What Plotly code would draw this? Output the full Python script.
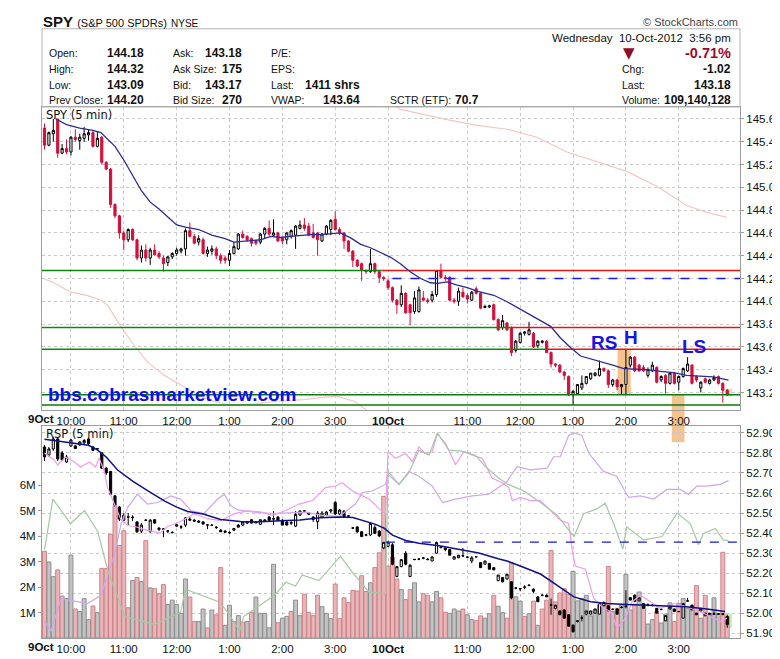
import plotly.graph_objects as go

# ---------------- data (5-min bars, 9-Oct = 0..77, 10-Oct = 78..155) ----------------
bars = list(range(156))

spy_open = [
    145.52, 145.37, 145.47, 145.60, 145.30, 145.34, 145.31, 145.44, 145.41, 145.43,
    145.46, 145.48, 145.36, 145.44, 145.22, 145.16, 144.85, 144.75, 144.60, 144.54,
    144.63, 144.54, 144.38, 144.45, 144.38, 144.45, 144.42, 144.38, 144.34, 144.39,
    144.42, 144.44, 144.46, 144.62, 144.57, 144.52, 144.54, 144.42, 144.44, 144.46,
    144.40, 144.38, 144.36, 144.42, 144.46, 144.59, 144.57, 144.55, 144.53, 144.52,
    144.59, 144.64, 144.58, 144.60, 144.56, 144.54, 144.57, 144.58, 144.64, 144.67,
    144.66, 144.60, 144.60, 144.53, 144.59, 144.63, 144.72, 144.63, 144.60, 144.53,
    144.44, 144.36, 144.33, 144.27, 144.26, 144.33, 144.26, 144.21,
    144.18, 144.12, 144.01, 143.97, 144.07, 143.97, 143.91, 143.91, 144.03, 144.01,
    144.01, 144.06, 144.27, 144.21, 144.21, 144.01, 144.00, 144.08, 144.05, 144.01,
    144.11, 144.07, 143.945, 143.95, 143.97, 143.84, 143.77, 143.81, 143.77, 143.57,
    143.64, 143.72, 143.71, 143.72, 143.61, 143.64, 143.65, 143.55, 143.45, 143.44,
    143.38, 143.34, 143.18, 143.19, 143.24, 143.28, 143.32, 143.35, 143.35, 143.41,
    143.39, 143.27, 143.31, 143.25, 143.27, 143.44, 143.51, 143.44, 143.42, 143.35,
    143.39, 143.42, 143.31, 143.35, 143.28, 143.37, 143.29, 143.34, 143.39, 143.44,
    143.34, 143.24, 143.32, 143.28, 143.31, 143.34, 143.28, 143.22]
spy_high = [
    145.56, 145.49, 145.60, 145.60, 145.38, 145.42, 145.45, 145.51, 145.47, 145.53,
    145.51, 145.50, 145.49, 145.45, 145.23, 145.17, 144.86, 144.76, 144.62, 144.64,
    144.64, 144.55, 144.49, 144.50, 144.47, 144.50, 144.44, 144.40, 144.40, 144.43,
    144.47, 144.47, 144.64, 144.69, 144.59, 144.58, 144.56, 144.48, 144.49, 144.48,
    144.42, 144.40, 144.45, 144.52, 144.60, 144.62, 144.58, 144.56, 144.54, 144.60,
    144.65, 144.71, 144.72, 144.61, 144.57, 144.61, 144.63, 144.67, 144.71, 144.73,
    144.69, 144.68, 144.61, 144.60, 144.67, 144.72, 144.79, 144.65, 144.61, 144.54,
    144.45, 144.37, 144.34, 144.28, 144.46, 144.34, 144.27, 144.22,
    144.20, 144.13, 144.02, 144.14, 144.08, 143.98, 144.09, 144.13, 144.09, 144.03,
    144.09, 144.27, 144.33, 144.23, 144.22, 144.03, 144.12, 144.12, 144.07, 144.09,
    144.13, 144.08, 143.97, 143.97, 143.98, 143.85, 143.88, 143.82, 143.78, 143.66,
    143.73, 143.74, 143.82, 143.73, 143.66, 143.66, 143.66, 143.56, 143.46, 143.45,
    143.39, 143.35, 143.22, 143.27, 143.35, 143.34, 143.37, 143.38, 143.48, 143.42,
    143.40, 143.32, 143.32, 143.27, 143.58, 143.52, 143.52, 143.45, 143.44, 143.42,
    143.47, 143.43, 143.35, 143.36, 143.38, 143.38, 143.35, 143.42, 143.51, 143.45,
    143.35, 143.30, 143.33, 143.32, 143.35, 143.35, 143.29, 143.23]
spy_low = [
    145.33, 145.36, 145.40, 145.26, 145.29, 145.29, 145.28, 145.40, 145.33, 145.40,
    145.41, 145.35, 145.35, 145.20, 145.15, 144.82, 144.73, 144.55, 144.45, 144.52,
    144.53, 144.36, 144.34, 144.35, 144.32, 144.40, 144.37, 144.26, 144.31, 144.37,
    144.40, 144.42, 144.40, 144.56, 144.50, 144.49, 144.41, 144.39, 144.41, 144.37,
    144.33, 144.33, 144.31, 144.41, 144.45, 144.55, 144.52, 144.48, 144.49, 144.50,
    144.55, 144.57, 144.57, 144.52, 144.50, 144.50, 144.55, 144.46, 144.63, 144.62,
    144.57, 144.55, 144.40, 144.52, 144.58, 144.58, 144.62, 144.58, 144.46, 144.43,
    144.30, 144.30, 144.18, 144.24, 144.25, 144.24, 144.16, 144.18,
    144.10, 143.99, 143.89, 143.95, 143.89, 143.79, 143.89, 143.90, 144.00, 143.98,
    143.99, 144.04, 144.20, 144.18, 144.00, 143.98, 143.96, 144.03, 143.98, 144.00,
    144.06, 143.93, 143.94, 143.94, 143.83, 143.74, 143.75, 143.74, 143.52, 143.55,
    143.63, 143.70, 143.70, 143.59, 143.59, 143.63, 143.55, 143.42, 143.42, 143.37,
    143.31, 143.17, 143.09, 143.18, 143.22, 143.27, 143.31, 143.34, 143.34, 143.38,
    143.24, 143.25, 143.22, 143.18, 143.18, 143.42, 143.38, 143.38, 143.38, 143.33,
    143.38, 143.28, 143.29, 143.19, 143.27, 143.27, 143.22, 143.33, 143.38, 143.27,
    143.29, 143.20, 143.28, 143.27, 143.30, 143.27, 143.11, 143.17]
spy_close = [
    145.37, 145.48, 145.50, 145.30, 145.34, 145.31, 145.44, 145.42, 145.44, 145.47,
    145.48, 145.36, 145.43, 145.22, 145.16, 144.85, 144.75, 144.60, 144.54, 144.63,
    144.54, 144.38, 144.45, 144.38, 144.45, 144.41, 144.39, 144.33, 144.39, 144.42,
    144.45, 144.46, 144.62, 144.57, 144.51, 144.55, 144.42, 144.45, 144.46, 144.40,
    144.36, 144.36, 144.42, 144.48, 144.59, 144.56, 144.54, 144.51, 144.51, 144.59,
    144.64, 144.59, 144.60, 144.53, 144.53, 144.60, 144.62, 144.66, 144.67, 144.64,
    144.58, 144.56, 144.54, 144.59, 144.66, 144.71, 144.63, 144.60, 144.53, 144.44,
    144.36, 144.31, 144.27, 144.26, 144.33, 144.26, 144.21, 144.20,
    144.12, 144.01, 143.97, 144.07, 143.90, 143.90, 144.03, 144.10, 144.01, 144.00,
    144.06, 144.27, 144.21, 144.20, 144.01, 144.00, 144.09, 144.04, 144.02, 144.08,
    144.07, 143.94, 143.955, 143.96, 143.84, 143.75, 143.83, 143.75, 143.55, 143.65,
    143.72, 143.73, 143.75, 143.60, 143.65, 143.65, 143.55, 143.45, 143.44, 143.38,
    143.35, 143.18, 143.21, 143.27, 143.28, 143.34, 143.37, 143.37, 143.41, 143.39,
    143.27, 143.31, 143.25, 143.27, 143.42, 143.51, 143.39, 143.39, 143.39, 143.40,
    143.44, 143.29, 143.34, 143.28, 143.37, 143.28, 143.34, 143.41, 143.45, 143.28,
    143.31, 143.29, 143.29, 143.31, 143.33, 143.28, 143.22, 143.18]

rsp_open = [
    52.83, 52.79, 52.82, 52.87, 52.80, 52.755, 52.835, 52.835, 52.84, 52.85,
    52.87, 52.83, 52.82, 52.80, 52.724, 52.708, 52.586, 52.53, 52.465, 52.48,
    52.48, 52.456, 52.41, 52.465, 52.408, 52.467, 52.418, 52.42, 52.41, 52.402,
    52.435, 52.43, 52.44, 52.47, 52.465, 52.46, 52.456, 52.44, 52.44, 52.43,
    52.415, 52.41, 52.402, 52.415, 52.44, 52.44, 52.45, 52.467, 52.451, 52.444,
    52.46, 52.48, 52.47, 52.48, 52.464, 52.456, 52.45, 52.435, 52.49, 52.51,
    52.50, 52.48, 52.457, 52.48, 52.49, 52.51, 52.553, 52.496, 52.509, 52.485,
    52.425, 52.431, 52.407, 52.39, 52.391, 52.428, 52.41, 52.326,
    52.334, 52.342, 52.184, 52.233, 52.30, 52.184, 52.268, 52.27, 52.275, 52.27,
    52.261, 52.30, 52.33, 52.326, 52.318, 52.27, 52.277, 52.287, 52.28, 52.261,
    52.282, 52.253, 52.245, 52.249, 52.228, 52.163, 52.179, 52.171, 52.158, 52.126,
    52.122, 52.13, 52.139, 52.12, 52.082, 52.09, 52.09, 52.041, 52.025, 52.012,
    52.017, 51.993, 51.941, 51.96, 51.976, 51.996, 51.996, 52.001, 51.996, 52.038,
    52.038, 52.02, 52.022, 52.03, 52.033, 52.079, 52.09, 52.062, 52.049, 52.044,
    52.04, 52.025, 52.02, 51.963, 52.022, 52.022, 52.009, 51.976, 52.061, 52.041,
    52.001, 52.012, 51.988, 51.993, 51.996, 51.996, 51.998, 51.984]
rsp_high = [
    52.84, 52.83, 52.88, 52.88, 52.81, 52.79, 52.87, 52.84, 52.86, 52.87,
    52.875, 52.835, 52.825, 52.805, 52.73, 52.71, 52.59, 52.535, 52.50, 52.50,
    52.49, 52.46, 52.45, 52.47, 52.47, 52.47, 52.43, 52.425, 52.415, 52.41,
    52.445, 52.44, 52.48, 52.48, 52.47, 52.465, 52.46, 52.445, 52.445, 52.435,
    52.42, 52.415, 52.41, 52.425, 52.445, 52.46, 52.46, 52.47, 52.46, 52.47,
    52.47, 52.485, 52.51, 52.485, 52.47, 52.46, 52.46, 52.51, 52.515, 52.515,
    52.505, 52.485, 52.51, 52.51, 52.51, 52.52, 52.56, 52.52, 52.515, 52.49,
    52.43, 52.435, 52.41, 52.395, 52.45, 52.44, 52.415, 52.355,
    52.358, 52.35, 52.235, 52.27, 52.31, 52.245, 52.27, 52.275, 52.28, 52.275,
    52.285, 52.358, 52.335, 52.327, 52.32, 52.285, 52.29, 52.326, 52.285, 52.285,
    52.283, 52.255, 52.262, 52.25, 52.23, 52.191, 52.18, 52.196, 52.16, 52.13,
    52.125, 52.14, 52.145, 52.125, 52.085, 52.095, 52.095, 52.074, 52.041, 52.015,
    52.02, 51.995, 51.945, 51.965, 51.99, 52.012, 52.012, 52.022, 52.054, 52.06,
    52.04, 52.025, 52.025, 52.035, 52.115, 52.08, 52.095, 52.08, 52.05, 52.05,
    52.045, 52.026, 52.025, 51.99, 52.033, 52.023, 52.012, 52.049, 52.077, 52.042,
    52.002, 52.025, 52.001, 52.001, 52.009, 52.0, 52.0, 51.993]
rsp_low = [
    52.76, 52.78, 52.81, 52.76, 52.76, 52.75, 52.83, 52.82, 52.835, 52.845,
    52.84, 52.81, 52.815, 52.72, 52.69, 52.59, 52.53, 52.46, 52.46, 52.44,
    52.46, 52.40, 52.40, 52.46, 52.40, 52.447, 52.41, 52.38, 52.40, 52.40,
    52.43, 52.42, 52.43, 52.46, 52.455, 52.45, 52.444, 52.42, 52.435, 52.42,
    52.405, 52.40, 52.395, 52.41, 52.43, 52.435, 52.445, 52.45, 52.45, 52.44,
    52.455, 52.46, 52.44, 52.46, 52.44, 52.44, 52.44, 52.43, 52.485, 52.505,
    52.49, 52.455, 52.42, 52.475, 52.485, 52.50, 52.49, 52.49, 52.48, 52.48,
    52.42, 52.40, 52.38, 52.385, 52.385, 52.398, 52.38, 52.32,
    52.33, 52.24, 52.18, 52.23, 52.24, 52.18, 52.265, 52.265, 52.27, 52.265,
    52.26, 52.30, 52.325, 52.31, 52.29, 52.27, 52.275, 52.285, 52.275, 52.25,
    52.28, 52.228, 52.244, 52.22, 52.215, 52.16, 52.155, 52.17, 52.07, 52.12,
    52.11, 52.12, 52.135, 52.10, 52.058, 52.085, 52.082, 51.993, 52.02, 51.993,
    51.976, 51.936, 51.905, 51.955, 51.96, 51.99, 51.995, 51.998, 51.995, 52.035,
    52.012, 52.015, 51.996, 52.025, 52.025, 52.066, 52.058, 52.06, 52.025, 52.035,
    52.035, 52.001, 52.015, 51.96, 52.02, 52.009, 52.005, 51.975, 52.06, 52.017,
    51.993, 52.01, 51.987, 51.992, 51.995, 51.995, 51.99, 51.928]
rsp_close = [
    52.78, 52.82, 52.87, 52.77, 52.765, 52.78, 52.865, 52.822, 52.855, 52.862,
    52.846, 52.813, 52.821, 52.724, 52.70, 52.594, 52.54, 52.47, 52.49, 52.481,
    52.478, 52.407, 52.44, 52.464, 52.465, 52.45, 52.425, 52.421, 52.411, 52.403,
    52.442, 52.431, 52.476, 52.465, 52.46, 52.455, 52.445, 52.441, 52.439, 52.428,
    52.407, 52.405, 52.403, 52.423, 52.43, 52.456, 52.455, 52.45, 52.458, 52.467,
    52.465, 52.464, 52.472, 52.464, 52.44, 52.44, 52.452, 52.493, 52.51, 52.511,
    52.495, 52.468, 52.50, 52.50, 52.505, 52.515, 52.496, 52.515, 52.483, 52.486,
    52.426, 52.407, 52.383, 52.391, 52.448, 52.399, 52.386, 52.354,
    52.355, 52.245, 52.233, 52.268, 52.245, 52.24, 52.269, 52.27, 52.276, 52.268,
    52.281, 52.353, 52.328, 52.318, 52.29, 52.282, 52.29, 52.286, 52.28, 52.277,
    52.282, 52.228, 52.261, 52.22, 52.217, 52.191, 52.157, 52.195, 52.077, 52.126,
    52.123, 52.131, 52.14, 52.11, 52.058, 52.09, 52.082, 52.042, 52.041, 51.993,
    51.976, 51.936, 51.908, 51.962, 51.977, 52.012, 52.012, 52.022, 52.049, 52.054,
    52.012, 52.02, 51.996, 52.03, 52.035, 52.066, 52.06, 52.077, 52.025, 52.044,
    52.04, 52.001, 52.02, 51.989, 52.033, 52.009, 52.009, 52.049, 52.062, 52.017,
    51.993, 52.025, 52.001, 52.001, 51.997, 51.997, 51.995, 51.944]

# RSP volume in millions, 1 = down bar (pink), 0 = up bar (grey)
rsp_volume = [
    3.41, 2.99, 2.41, 2.68, 1.65, 1.55, 3.26, 1.14, 1.04, 1.55,
    0.72, 1.26, 1.00, 2.74, 2.73, 4.08, 5.20, 3.64, 4.22, 1.19,
    2.26, 2.38, 2.22, 3.83, 1.97, 1.94, 1.74, 2.10, 1.32, 1.49,
    1.32, 0.97, 2.32, 1.61, 0.65, 0.65, 1.14, 0.40, 1.10, 0.91,
    2.77, 0.50, 1.29, 0.65, 0.88, 0.62, 0.65, 1.01, 1.61, 0.97,
    0.97, 0.40, 2.90, 0.60, 0.78, 0.85, 1.04, 1.49, 0.88, 1.72,
    1.01, 0.88, 1.68, 1.23, 0.97, 0.76, 2.12, 0.76, 1.58, 1.39,
    1.87, 1.85, 2.45, 1.83, 2.17, 2.77, 3.35, 5.57,
    2.83, 3.19, 2.32, 1.91, 1.51, 1.90, 2.17, 1.42, 1.74, 1.68,
    1.42, 1.83, 1.58, 1.01, 0.97, 1.14, 1.06, 1.14, 0.91, 0.72,
    0.68, 0.87, 0.78, 0.95, 1.68, 1.25, 1.00, 0.78, 2.96, 1.62,
    1.45, 0.85, 0.95, 1.45, 0.50, 1.14, 1.49, 3.44, 1.42, 1.77,
    1.94, 1.72, 2.62, 1.46, 1.55, 1.68, 0.87, 1.10, 1.30, 1.36,
    2.81, 1.04, 1.17, 1.30, 2.50, 1.10, 1.33, 1.81, 1.32, 0.55,
    0.72, 1.04, 0.59, 0.94, 1.38, 0.65, 1.36, 1.55, 1.17, 1.23,
    2.06, 0.78, 1.68, 0.94, 1.58, 0.97, 3.37, 0.85]
vol_down = [
    1, 0, 0, 1, 1, 0, 0, 1, 0, 0,
    0, 1, 0, 1, 1, 1, 1, 1, 1, 1,
    0, 1, 0, 1, 0, 1, 1, 1, 0, 0,
    0, 0, 0, 1, 1, 0, 0, 1, 0, 1,
    1, 0, 0, 1, 0, 1, 0, 1, 0, 0,
    0, 0, 0, 1, 0, 0, 1, 0, 0, 1,
    1, 1, 1, 0, 0, 0, 1, 1, 1, 1,
    1, 1, 1, 1, 0, 1, 1, 1,
    1, 1, 1, 0, 1, 1, 0, 0, 1, 1,
    0, 0, 1, 1, 0, 0, 0, 1, 0, 0,
    1, 1, 0, 0, 1, 0, 0, 1, 1, 0,
    0, 1, 0, 1, 0, 1, 1, 1, 1, 1,
    1, 1, 0, 0, 0, 0, 0, 0, 0, 0,
    1, 0, 1, 0, 0, 0, 1, 0, 1, 0,
    0, 1, 0, 0, 0, 1, 1, 0, 0, 0,
    1, 0, 1, 0, 0, 0, 1, 1]

# overlays (bar position, value)
spy_ma_x = [2.6, 5, 8, 11, 12.8, 14.5, 16, 18, 20, 22, 24, 26, 28, 30, 32, 35, 38, 41, 43,
            46.8, 49, 51.4, 53.6, 55.9, 58.2, 60.4, 62.7, 65, 67.2, 69.5, 71.8, 74, 76.3,
            78.6, 80.8, 83.1, 85.4, 87.6, 89.2, 91.4, 93.7, 96, 98.2, 102, 105, 108,
            111.8, 114.9, 117.1, 119.4, 121.7, 124.7, 127, 129.2, 131.5, 133.7, 136.8,
            139.8, 142.8, 145.8, 148.8, 151.8, 155.3]
spy_ma_y = [145.60, 145.55, 145.52, 145.50, 145.48, 145.42, 145.36, 145.24, 145.10, 144.97,
            144.87, 144.81, 144.74, 144.67, 144.65, 144.63, 144.58, 144.55, 144.52,
            144.53, 144.54, 144.57, 144.56, 144.57, 144.58, 144.586, 144.586, 144.594,
            144.60, 144.557, 144.50, 144.47, 144.43, 144.386, 144.33, 144.257, 144.20,
            144.163, 144.157, 144.171, 144.143, 144.12, 144.09, 144.053, 143.996, 143.93,
            143.85, 143.78, 143.68, 143.595, 143.52, 143.489, 143.466, 143.437, 143.409,
            143.403, 143.40, 143.385, 143.374, 143.351, 143.346, 143.337, 143.308]

spy_slow_x = [0, 1.9, 6, 9.8, 12.8, 14.3, 17.3, 20.4, 23.4, 27.2, 31, 34.7, 38.5, 42.3, 47.6,
              52.9, 58.9, 63.5, 66.5, 70.3, 74, 77.5, None,
              78.5, 80.8, 91.4, 98.2, 105, 111.8, 118.6, 125.4, 132.2, 139, 145.8, 150.4, 154.9]
spy_slow_y = [144.196, 144.167, 144.08, 144.05, 144.01, 143.967, 143.78, 143.61, 143.466,
              143.35, 143.266, 143.18, 143.123, 143.088, 143.10, 143.123, 143.137, 143.16,
              143.166, 143.123, 143.02, 142.9, None,
              145.75, 145.684, 145.595, 145.543, 145.51, 145.44, 145.31, 145.226, 145.14,
              145.01, 144.84, 144.78, 144.736]

rsp_ma_x = [0, 4, 8, 10, 12, 14, 16.6, 20, 23.4, 27.3, 30, 32.5, 36, 40, 44.5, 48, 53.6, 58,
            62.6, 67.2, 70, 73.3, 75, 77.1, 79, 82, 85, 89.6, 94, 98.6, 103, 105, 108,
            112.6, 116.4, 120.2, 124, 127.7, 132.2, 136.8, 141.3, 145.8, 150.4, 154.5]
rsp_ma_y = [52.868, 52.855, 52.845, 52.838, 52.815, 52.78, 52.715, 52.66, 52.612, 52.56,
            52.53, 52.508, 52.495, 52.468, 52.458, 52.456, 52.462, 52.465, 52.477, 52.48,
            52.478, 52.458, 52.445, 52.425, 52.39, 52.363, 52.35, 52.337, 52.321, 52.301,
            52.272, 52.261, 52.236, 52.196, 52.139, 52.082, 52.058, 52.049, 52.044, 52.041,
            52.036, 52.033, 52.022, 52.009]

pink_x = [0, 2.2, 3, 4.8, 6.8, 8.2, 10.2, 11.6, 12.4, 13.6, 14.3, 15.9, 17.3, 18.9, 20.5,
          23.4, 26.3, 27.9, 30.9, 34, 37, 40, 43.1, 46.1, 49, 51.8, 54.8, 57.8, 60.8, 63.8,
          66.1, 67.6, 69.9, 72.2, 73.7, 76, 77.4, 78, 79.7, 82, 83.5, 85, 86.5, 88, 89.2,
          91.1, 93.3, 95.2, 97.1, 99.4, 101.6, 103.9, 105.4, 106.2, 108.1, 110.3, 112.6,
          114.9, 117.1, 119, 119.8, 120.5, 122.8, 124.7, 126.9, 128.5, 130, 131.9, 133.4,
          135.3, 137.5, 139.8, 142.9, 145.9, 148.5, 150.4, 153.4, 154.9]
pink_y = [52.80, 52.765, 52.74, 52.78, 52.755, 52.73, 52.755, 52.73, 52.775, 52.706, 52.628,
          52.545, 52.47, 52.438, 52.433, 52.414, 52.40, 52.433, 52.458, 52.497, 52.472,
          52.462, 52.497, 52.511, 52.506, 52.489, 52.513, 52.545, 52.562, 52.627, 52.635,
          52.651, 52.61, 52.586, 52.57, 52.521, 52.497, 52.806, 52.773, 52.797, 52.757,
          52.83, 52.797, 52.806, 52.895, 52.846, 52.741, 52.806, 52.789, 52.773, 52.675,
          52.651, 52.627, 52.562, 52.578, 52.562, 52.562, 52.513, 52.464, 52.448, 52.318,
          52.236, 52.22, 52.074, 52.025, 52.009, 51.928, 51.976, 52.058, 52.09, 52.058,
          52.025, 52.049, 52.033, 52.009, 51.993, 51.96, 51.976]

lilac_x = [0, 1.5, 3.75, 6, 9.8, 12.8, 15.8, 17.4, 18.9, 21.1, 23.4, 25.7, 28.7, 30.9, 33.2,
           36.2, 39.3, 40.8, 42.3, 43.8, 47.6, 51.7, 59.3, 63.1, 66.9, 70.6, 72.2, 74.4, 77.4,
           78, 80.5, 82.7, 85, 88, 90.4, 93.3, 97.1, 100.9, 103.9, 105, 107.3, 110.3, 114.1,
           115.6, 117.1, 119, 120.2, 122, 123.6, 126.9, 129.9, 132.6, 135.3, 138.3, 141.3,
           144.3, 146.2, 148.1, 150.4, 153.4, 155.3]
lilac_y = [51.96, 51.911, 52.074, 52.066, 52.049, 52.09, 52.285, 52.448, 52.529, 52.594,
           52.545, 52.553, 52.586, 52.57, 52.513, 52.497, 52.57, 52.594, 52.537, 52.516,
           52.505, 52.497, 52.505, 52.489, 52.484, 52.545, 52.602, 52.61, 52.643, 52.692,
           52.643, 52.708, 52.684, 52.635, 52.553, 52.57, 52.586, 52.594, 52.643, 52.659,
           52.732, 52.716, 52.724, 52.781, 52.781, 52.887, 52.90, 52.887, 52.797, 52.708,
           52.684, 52.578, 52.586, 52.57, 52.618, 52.618, 52.594, 52.635, 52.635, 52.643,
           52.662]

green_x = [0, 1.9, 5.9, 9.1, 12.1, 14.3, 18.2, 21.1, 25, 30.9, 32, 39.7, 42, 44.3, 45.2,
           52.2, 54.8, 57, 58.5, 62.3, 67.2, 69.9, 73.7, 77.4, 78, 80.5, 82.7, 85, 87.3,
           89.2, 91.8, 94.8, 97.8, 100.1, 103.1, 105, 106.2, 108.8, 112.6, 116.4, 120.2,
           122.4, 125.4, 127.3, 129.2, 131.3, 132.2, 136, 140.2, 143.6, 146.6, 148.5, 149.6,
           152.3, 154.1, 155.3]
green_y = [52.318, 52.57, 52.448, 52.513, 52.407, 52.22, 51.984, 51.968, 51.945, 52.005,
           52.12, 52.057, 51.993, 51.911, 51.984, 52.09, 52.155, 52.136, 52.191, 52.163,
           52.285, 52.204, 52.106, 52.098, 52.708, 52.643, 52.70, 52.814, 52.789, 52.90,
           52.814, 52.809, 52.789, 52.732, 52.675, 52.646, 52.635, 52.61, 52.553, 52.489,
           52.383, 52.497, 52.521, 52.549, 52.448, 52.321, 52.432, 52.366, 52.383, 52.50,
           52.448, 52.342, 52.399, 52.423, 52.366, 52.363]

# trend lines drawn on the SPY panel: level, bar where green turns red
split_levels = [144.27, 143.77, 143.58]
split_at = [76.5, 106, 114]
flat_levels = [143.18, 143.09]

tick_bars = [6, 18, 30, 42, 54, 66, 78, 96, 108, 120, 132, 144]
tick_text = ["10:00", "11:00", "12:00", "1:00", "2:00", "3:00", "<b>10Oct</b>",
             "11:00", "12:00", "1:00", "2:00", "3:00"]

X0, X1 = -0.57, 157.9
RED = "#d1103c"
GRID = dict(showgrid=True, gridcolor="#c9c9c9", griddash="dot", gridwidth=1)
FONT = "Liberation Sans, Arial, sans-serif"

fig = go.Figure()

# ---------------- lower panel: volume bars behind RSP ----------------
fig.add_trace(go.Bar(x=bars, y=rsp_volume, width=0.9, xaxis="x2", yaxis="y2",
                     marker=dict(color=["#e8b6b9" if d else "#c3c3c3" for d in vol_down],
                                 line=dict(color=["#cd8388" if d else "#8e8e8e" for d in vol_down],
                                           width=1))))

for xs, ys, col in [(lilac_x, lilac_y, "#cfa6ef"), (pink_x, pink_y, "#f29cf0"),
                    (green_x, green_y, "#a3c9a3")]:
    fig.add_trace(go.Scatter(x=xs, y=ys, mode="lines", line=dict(color=col, width=1.2),
                             xaxis="x2", yaxis="y3"))

fig.add_trace(go.Scatter(x=[77.5, X1], y=[52.355, 52.355], mode="lines",
                         line=dict(color="#1a1acc", width=1.3, dash="dash"),
                         xaxis="x2", yaxis="y3"))
fig.add_trace(go.Scatter(x=rsp_ma_x, y=rsp_ma_y, mode="lines",
                         line=dict(color="#10108a", width=1.5), xaxis="x2", yaxis="y3"))
fig.add_trace(go.Candlestick(x=bars, open=rsp_open, high=rsp_high, low=rsp_low, close=rsp_close,
                             xaxis="x2", yaxis="y3", whiskerwidth=0,
                             increasing=dict(line=dict(color="black", width=1), fillcolor="white"),
                             decreasing=dict(line=dict(color="black", width=1), fillcolor="black")))

# ---------------- upper panel: SPY ----------------
fig.add_trace(go.Scatter(x=spy_slow_x, y=spy_slow_y, mode="lines",
                         line=dict(color="#f5c6c6", width=1.2), xaxis="x", yaxis="y"))
for lvl, cut in zip(split_levels, split_at):
    fig.add_trace(go.Scatter(x=[X0, cut], y=[lvl, lvl], mode="lines",
                             line=dict(color="#0a8a0a", width=1.5), xaxis="x", yaxis="y"))
    fig.add_trace(go.Scatter(x=[cut, X1], y=[lvl, lvl], mode="lines",
                             line=dict(color="#ee1111", width=1.5), xaxis="x", yaxis="y"))
for lvl in flat_levels:
    fig.add_trace(go.Scatter(x=[X0, X1], y=[lvl, lvl], mode="lines",
                             line=dict(color="#0a7a0a", width=1.5), xaxis="x", yaxis="y"))
fig.add_trace(go.Scatter(x=[79, X1], y=[144.20, 144.20], mode="lines",
                         line=dict(color="#1a1aee", width=1.3, dash="dash"), xaxis="x", yaxis="y"))
fig.add_trace(go.Scatter(x=spy_ma_x, y=spy_ma_y, mode="lines",
                         line=dict(color="#2a2a9a", width=1.3), xaxis="x", yaxis="y"))
fig.add_trace(go.Candlestick(x=bars, open=spy_open, high=spy_high, low=spy_low, close=spy_close,
                             xaxis="x", yaxis="y", whiskerwidth=0,
                             increasing=dict(line=dict(color="black", width=1), fillcolor="white"),
                             decreasing=dict(line=dict(color=RED, width=1), fillcolor=RED)))


# pixel -> paper helpers for the page furniture
def px(x):
    return (x - 34) / 699


def py(y):
    return (642 - y) / 543


shapes = [
    # header box
    dict(type="rect", xref="paper", yref="paper", x0=0, x1=1, y0=py(99), y1=py(19),
         line=dict(color="#b5b5b5", width=1)),
    # orange highlight bars
    dict(type="rect", xref="x", yref="y", x0=130.1, x1=133.1, y0=143.18, y1=143.58,
         fillcolor="#f6c38d", line=dict(width=0), layer="below"),
    dict(type="rect", xref="x", yref="paper", x0=142.4, x1=145.3, y0=py(441.7), y1=py(393.3),
         fillcolor="#f6c38d", line=dict(width=0), layer="below"),
    # last-bar highlights
    dict(type="rect", xref="x", yref="y", x0=154.6, x1=156.1, y0=143.165, y1=143.235,
         fillcolor="#c9f0b4", line=dict(width=0), layer="below"),
    dict(type="rect", xref="x2", yref="y3", x0=154.6, x1=156.1, y0=51.925, y1=52.0,
         fillcolor="#c9f0b4", line=dict(width=0), layer="below"),
]


def txt(x, y, s, size=11, bold=False, anchor="left", color="#111", family=FONT):
    return dict(xref="paper", yref="paper", x=px(x), y=py(y), text=f"<b>{s}</b>" if bold else s,
                showarrow=False, xanchor=anchor, yanchor="middle",
                font=dict(size=size, color=color, family=family))


LAB, VAL = 10.5, 12
ann = [
    txt(33, 12, "<b>SPY</b> <span style='font-size:11px'>(S&amp;P 500 SPDRs)</span>"
                " <span style='font-size:10px'>NYSE</span>", size=15),
    txt(733, 12, "© StockCharts.com", size=11, anchor="right", color="#444"),
    txt(726, 28, "Wednesday\u00a0\u00a010-Oct-2012\u00a0\u00a03:56 pm", size=11.5, anchor="right"),
    txt(622, 44, "▼", size=15, anchor="center", color="#8e0b2e", family="DejaVu Sans"),
    txt(726, 44, "-0.71%", size=14.5, bold=True, anchor="right", color="#9a0b35"),
]
header_rows = [44, 60, 76, 92]
col1 = [("Open:", "144.18"), ("High:", "144.32"), ("Low:", "143.09"), ("Prev Close:", "144.20")]
col2 = [("Ask:", "143.18"), ("Ask Size:", "175"), ("Bid:", "143.17"), ("Bid Size:", "270")]
col3 = [("P/E:", ""), ("EPS:", ""), ("Last:", "1411 shrs"), ("VWAP:", "143.64")]
col4 = [("Chg:", "-1.02"), ("Last:", "143.18"), ("Volume:", "109,140,128")]
for (lab, val), y in zip(col1, header_rows):
    ann += [txt(39, y, lab, size=LAB), txt(138, y, val, size=VAL, bold=True, anchor="right")]
for (lab, val), y in zip(col2, header_rows):
    ann += [txt(163, y, lab, size=LAB), txt(236, y, val, size=VAL, bold=True, anchor="right")]
for (lab, val), y in zip(col3, header_rows):
    ann.append(txt(261, y, lab, size=LAB))
    if val:
        ann.append(txt(354, y, val, size=VAL, bold=True, anchor="right"))
ann += [txt(380, 92, "SCTR (ETF):", size=LAB), txt(446, 92, "70.7", size=VAL, bold=True)]
for (lab, val), y in zip(col4, header_rows[1:]):
    ann += [txt(613, y, lab, size=LAB), txt(726, y, val, size=VAL, bold=True, anchor="right")]

ann += [
    txt(36, 107, "SPY (5 min)", size=11.5, family="DejaVu Sans"),
    txt(36, 433, "RSP (5 min)", size=11.5, family="DejaVu Sans"),
    txt(48, 418, "<b>9Oct</b>", size=11.5, anchor="right"),
    txt(48, 651, "<b>9Oct</b>", size=11.5, anchor="right"),
    dict(xref="x", yref="y", x=0.3, y=143.18, text="<b>bbs.cobrasmarketview.com</b>",
         showarrow=False, xanchor="left", yanchor="middle",
         font=dict(size=19, color="#0b0bf5", family=FONT)),
]
for s, bx, by in [("RS", 127, 143.638), ("H", 133.2, 143.68), ("LS", 147.4, 143.60)]:
    ann.append(dict(xref="x", yref="y", x=bx, y=by, text=f"<b>{s}</b>", showarrow=False,
                    xanchor="center", yanchor="middle",
                    font=dict(size=19, color="#1515e6", family=FONT)))

xcommon = dict(range=[X0, X1], tickvals=tick_bars, ticktext=tick_text, ticks="",
               showline=True, mirror=True, linecolor="#9d9d9d", zeroline=False,
               rangeslider=dict(visible=False), tickfont=dict(size=11.5, color="#111"), **GRID)

fig.update_layout(
    width=780, height=659, showlegend=False, hovermode=False,
    margin=dict(l=34, r=47, t=99, b=17),
    paper_bgcolor="white", plot_bgcolor="rgba(0,0,0,0)",
    font=dict(family=FONT, size=11, color="#111"),
    bargap=0.1,
    xaxis=dict(domain=[0, 1], anchor="y", **xcommon),
    xaxis2=dict(domain=[0, 1], anchor="y2", **xcommon),
    yaxis=dict(domain=[py(409), 1.0], anchor="x", side="right", range=[143.045, 145.705],
               tickvals=[143.2, 143.4, 143.6, 143.8, 144.0, 144.2, 144.4, 144.6, 144.8,
                         145.0, 145.2, 145.4, 145.6],
               tickformat=".1f", ticks="outside", ticklen=3, tickcolor="#9d9d9d",
               showline=True, mirror=True, linecolor="#9d9d9d", zeroline=False,
               tickfont=dict(size=11.5, color="#111"), **GRID),
    yaxis2=dict(domain=[0, py(425.7)], anchor="x2", side="left", range=[0, 8.32],
                tickvals=[1, 2, 3, 4, 5, 6], ticktext=["1M", "2M", "3M", "4M", "5M", "6M"],
                ticks="outside", ticklen=3, tickcolor="#9d9d9d", showgrid=False,
                showline=True, mirror=True, linecolor="#9d9d9d", zeroline=False,
                tickfont=dict(size=11.5, color="#111")),
    yaxis3=dict(overlaying="y2", anchor="x2", side="right", range=[51.877, 52.932],
                tickvals=[51.9, 52.0, 52.1, 52.2, 52.3, 52.4, 52.5, 52.6, 52.7, 52.8, 52.9],
                tickformat=".2f", ticks="outside", ticklen=3, tickcolor="#9d9d9d",
                zeroline=False, tickfont=dict(size=11.5, color="#111"), **GRID),
    shapes=shapes, annotations=ann,
)

fig.write_html("out.html")
